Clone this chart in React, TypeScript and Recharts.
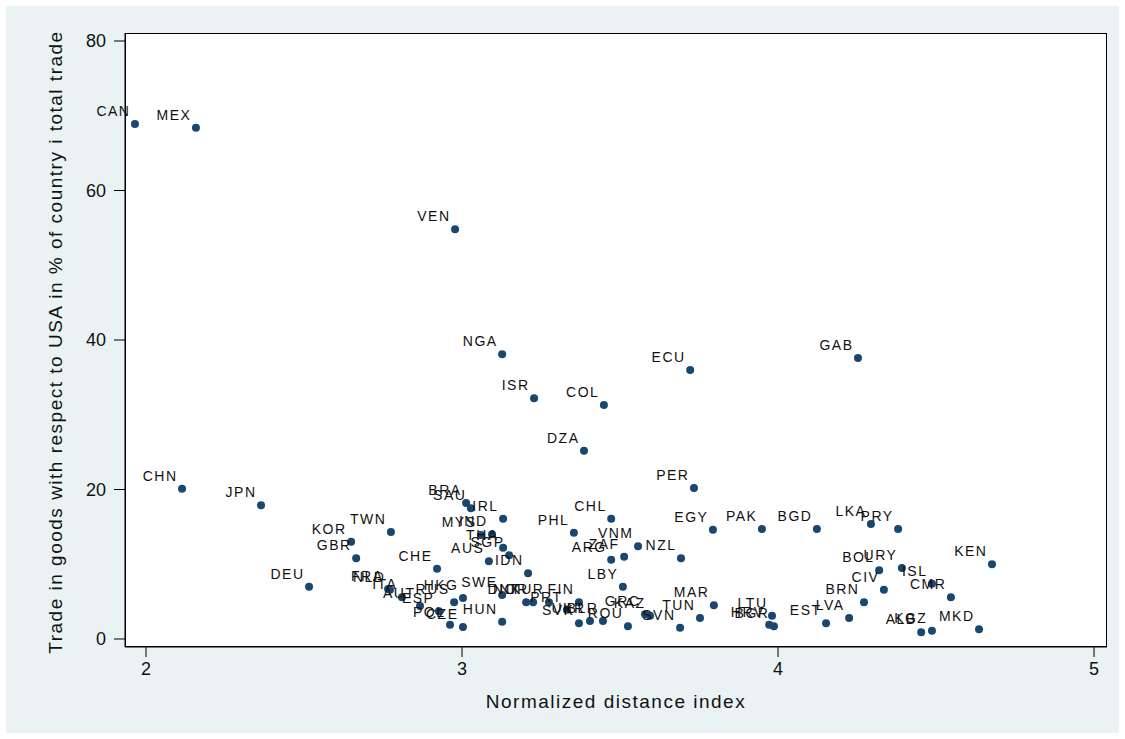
import { ScatterChart, Scatter, XAxis, YAxis } from "recharts";

// country codes, normalized distance index, share of trade with the USA (%)
const countries = [
  "CAN", "MEX", "VEN", "NGA", "ISR", "COL", "ECU", "GAB", "DZA", "PER", "CHN", "JPN",
  "BRA", "SAU", "IRL", "MYS", "IND", "THA", "SGP", "AUS", "IDN",
  "CHL", "PHL", "VNM", "ZAF", "ARG", "NZL", "LBY", "EGY", "MAR", "TUN", "SVN",
  "GRC", "KAZ", "ROU", "FIN", "TUR", "PRT", "SVK", "UKR", "BLR", "DNK", "NOR",
  "DEU", "GBR", "KOR", "TWN", "CHE", "FRA", "NLD", "ITA", "AUT", "ESP", "RUS",
  "HKG", "POL", "CZE", "HUN", "SWE",
  "PAK", "BGD", "LKA", "PRY", "KEN", "BOL", "URY", "ISL", "CMR", "CIV", "BRN",
  "LVA", "EST", "LTU", "HRV", "BGR", "KGZ", "ALB", "MKD",
];

const distance = [
  1.965, 2.158, 2.978, 3.127, 3.228, 3.449, 3.722, 4.253, 3.386, 3.734, 2.114, 2.364,
  3.013, 3.028, 3.13, 3.06, 3.095, 3.13, 3.149, 3.085, 3.209,
  3.472, 3.354, 3.557, 3.513, 3.472, 3.693, 3.509, 3.794, 3.797, 3.753, 3.69,
  3.579, 3.595, 3.525, 3.37, 3.275, 3.332, 3.37, 3.405, 3.446, 3.203, 3.225,
  2.516, 2.665, 2.649, 2.775, 2.921, 2.766, 2.772, 2.81, 2.867, 2.927, 2.975,
  3.003, 2.962, 3.003, 3.127, 3.127,
  3.949, 4.123, 4.294, 4.38, 4.677, 4.32, 4.392, 4.487, 4.547, 4.335, 4.272,
  4.225, 4.152, 3.981, 3.972, 3.987, 4.487, 4.453, 4.636,
];

const usShare = [
  68.9, 68.4, 54.8, 38.1, 32.2, 31.3, 36.0, 37.6, 25.2, 20.2, 20.1, 17.9,
  18.2, 17.5, 16.1, 13.9, 14.0, 12.2, 11.2, 10.4, 8.8,
  16.1, 14.2, 12.4, 11.0, 10.6, 10.8, 7.0, 14.6, 4.5, 2.8, 1.5,
  3.3, 3.1, 1.7, 4.9, 4.9, 3.9, 2.1, 2.4, 2.4, 4.9, 4.9,
  7.0, 10.8, 13.0, 14.3, 9.4, 6.7, 6.6, 5.6, 4.4, 3.7, 4.9,
  5.5, 1.9, 1.6, 2.3, 5.9,
  14.7, 14.7, 15.4, 14.7, 10.0, 9.2, 9.5, 7.4, 5.6, 6.6, 4.9,
  2.8, 2.1, 3.1, 1.9, 1.7, 1.1, 0.9, 1.3,
];

const xTicks = [2, 3, 4, 5];
const yTicks = [0, 20, 40, 60, 80];

const data = countries.map((country, i) => ({
  country,
  distance: distance[i],
  share: usShare[i],
}));

const NAVY = "#1a476f";
const FONT = '"Liberation Sans", Arial, Helvetica, sans-serif';

const Dot = (props: any) => (
  <circle cx={props.cx} cy={props.cy} r={4} fill={NAVY} />
);

const Tag = (props: any) => (
  <text
    x={props.cx - 4.5}
    y={props.cy - 13}
    textAnchor="end"
    dominantBaseline="central"
    fontSize={14}
    letterSpacing={1.5}
    fontFamily={FONT}
    fill="#111"
  >
    {props.payload?.country ?? props.country}
  </text>
);

export default function App() {
  return (
    <div style={{ position: "relative", width: 1125, height: 739, background: "#fff", fontFamily: FONT }}>
      <style>{`body{margin:0}`}</style>
      <div style={{ position: "absolute", left: 6, top: 6, width: 1113, height: 727, background: "#eaf2f3" }} />
      <div style={{ position: "absolute", left: 125, top: 33, width: 982, height: 614, background: "#fff", border: "1px solid #000", boxSizing: "border-box" }} />
      <div style={{ position: "absolute", left: 0, top: 0 }}>
        <ScatterChart width={1125} height={739} margin={{ top: 33, right: 18, bottom: 52, left: 65 }}>
          <XAxis
            type="number"
            dataKey="distance"
            domain={[1.9335, 5.041]}
            ticks={xTicks}
            height={40}
            tickSize={10}
            tickMargin={5}
            axisLine={{ stroke: "#000" }}
            tickLine={{ stroke: "#000" }}
            tick={{ fontSize: 18, fill: "#111", fontFamily: FONT }}
            label={{
              content: () => (
                <text x={616} y={701} textAnchor="middle" dominantBaseline="central" fontSize={19} letterSpacing={1.5} fontFamily={FONT} fill="#111">
                  Normalized distance index
                </text>
              ),
            }}
          />
          <YAxis
            type="number"
            dataKey="share"
            domain={[-1.07, 81.07]}
            ticks={yTicks}
            width={60}
            tickSize={11}
            tickMargin={8}
            axisLine={{ stroke: "#000" }}
            tickLine={{ stroke: "#000" }}
            tick={{ fontSize: 18, fill: "#111", fontFamily: FONT }}
            label={{
              content: () => (
                <text x={55} y={342} transform="rotate(-90 55 342)" textAnchor="middle" dominantBaseline="central" fontSize={19} letterSpacing={1.5} fontFamily={FONT} fill="#111">
                  Trade in goods with respect to USA in % of country i total trade
                </text>
              ),
            }}
          />
          <Scatter data={data} shape={Dot} isAnimationActive={false} />
          <Scatter data={data} shape={Tag} isAnimationActive={false} />
        </ScatterChart>
      </div>
    </div>
  );
}
